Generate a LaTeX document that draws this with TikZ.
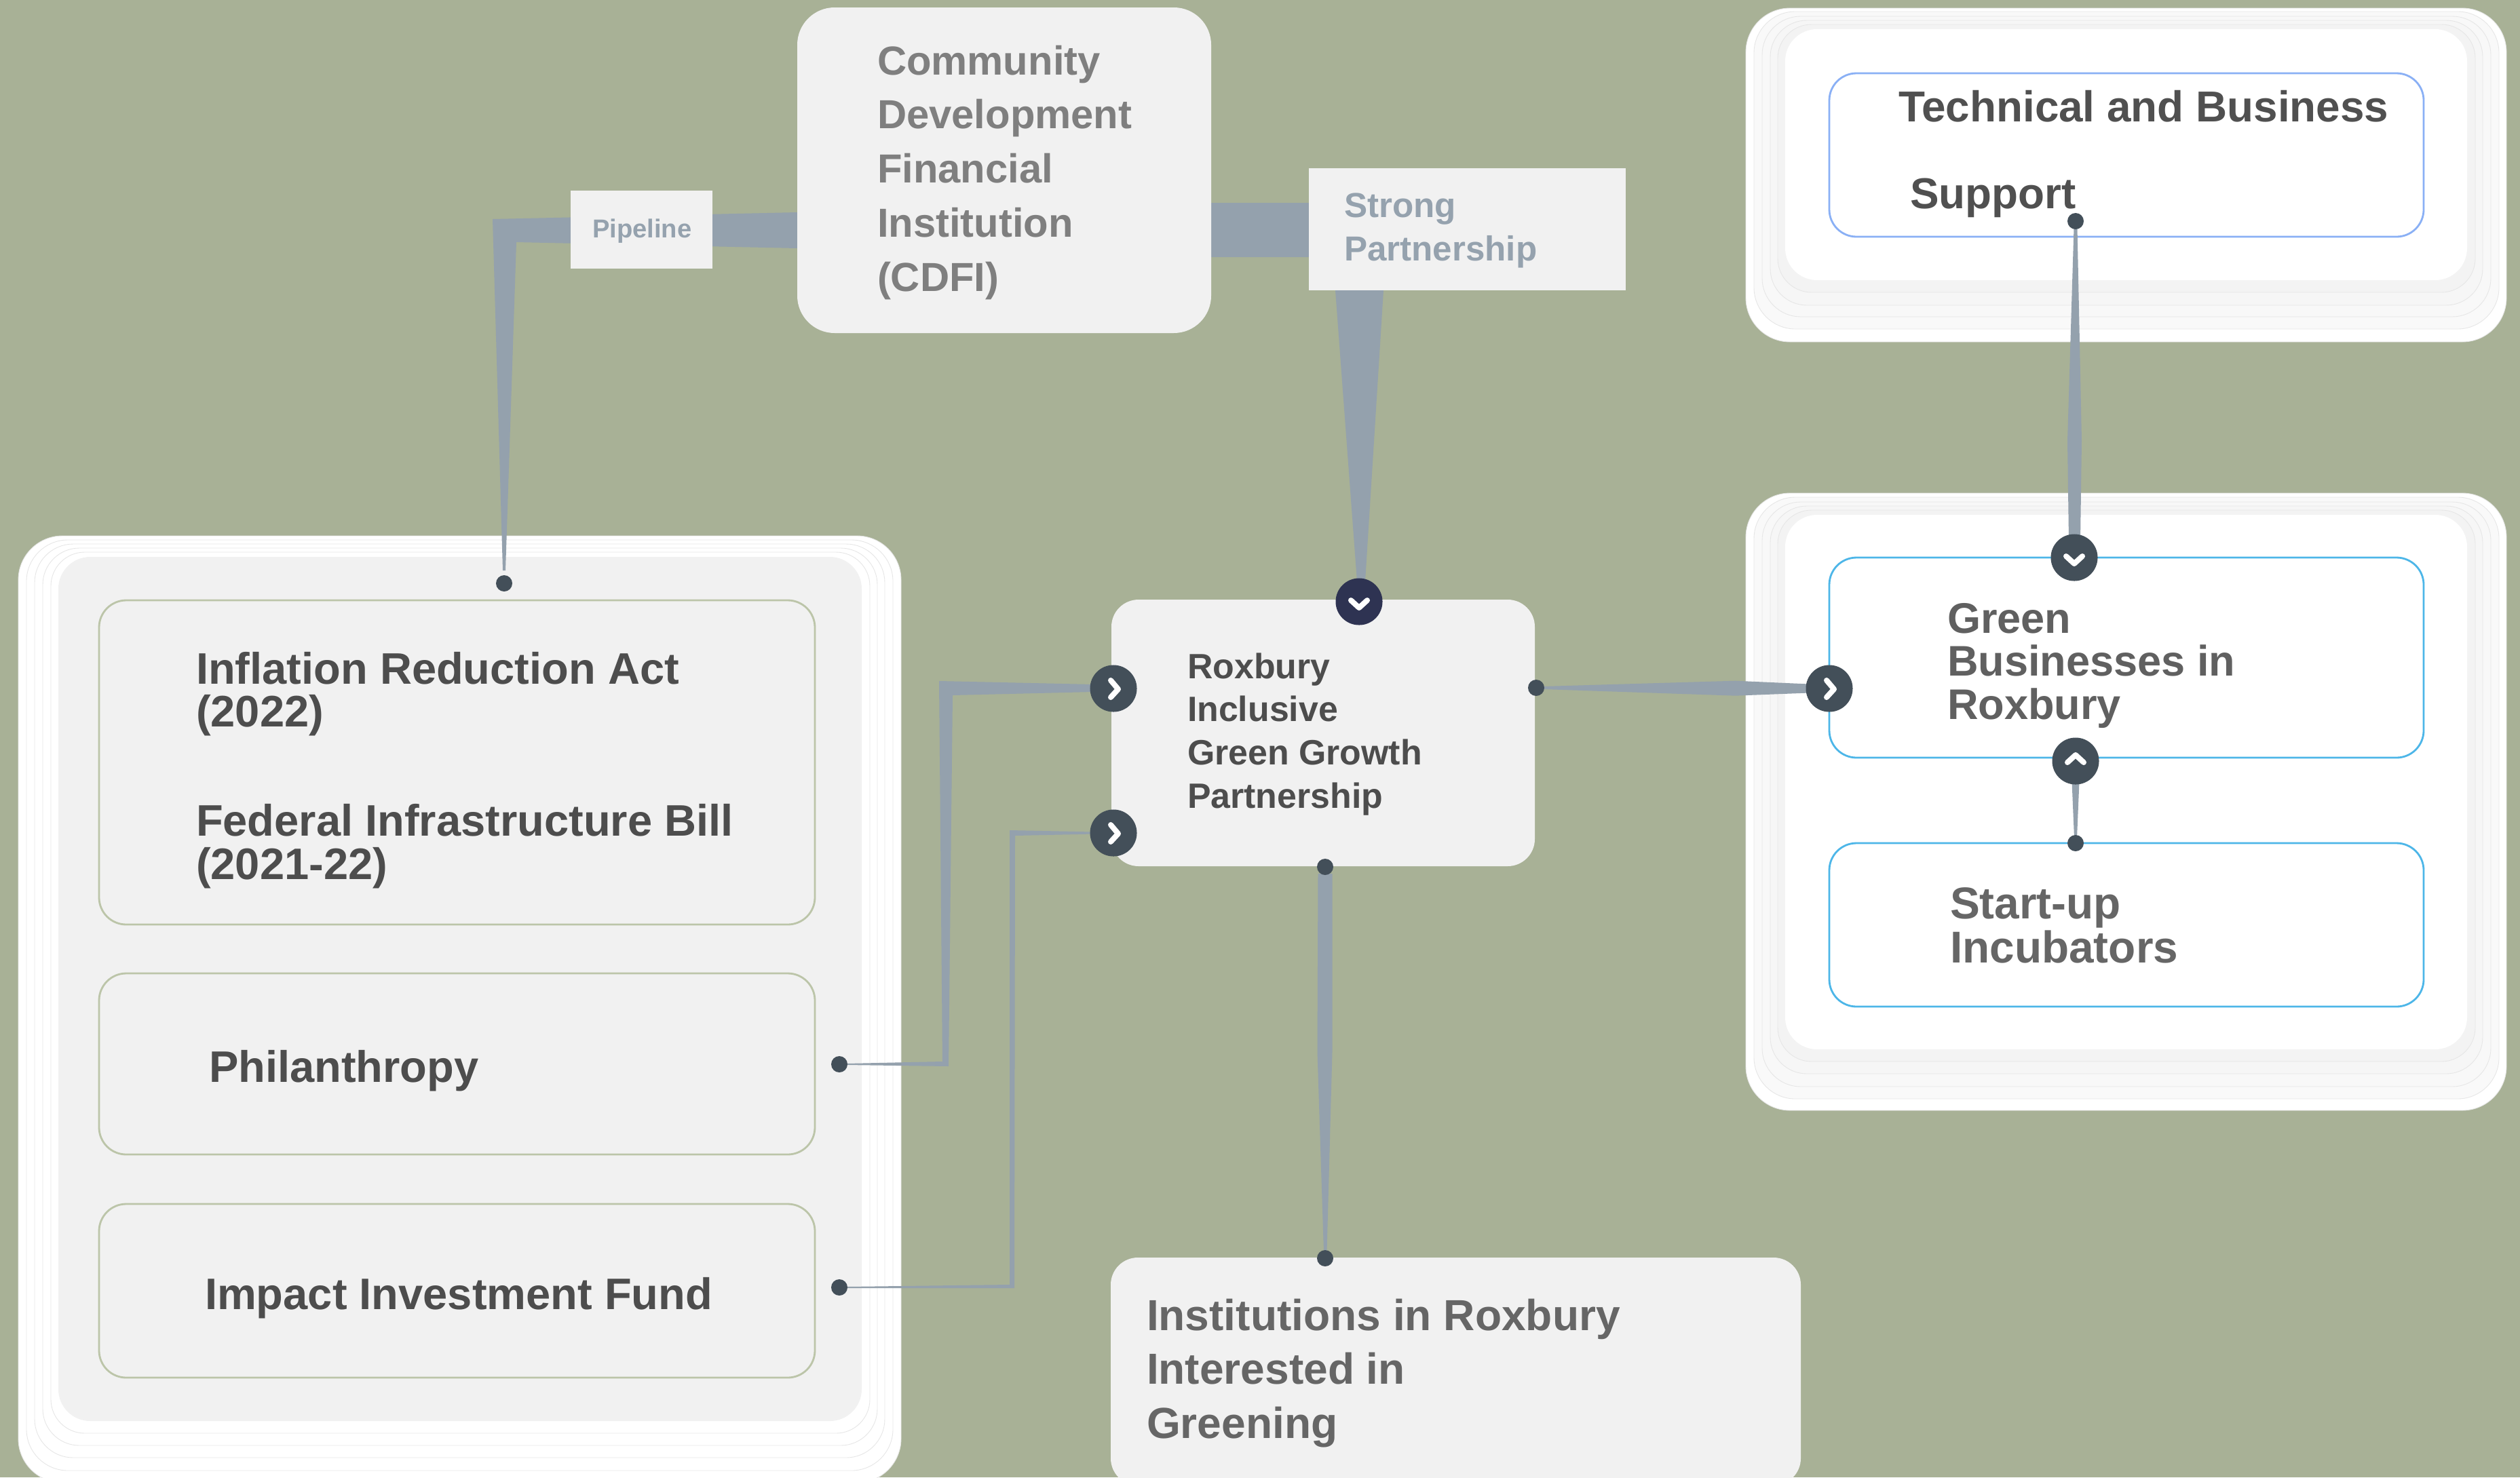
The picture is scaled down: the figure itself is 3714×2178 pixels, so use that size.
\documentclass[tikz,border=0pt]{standalone}
\usepackage{fontspec}
\setmainfont{Liberation Sans}
\usetikzlibrary{calc}
\pgfdeclarelayer{back}
\pgfdeclarelayer{conn}
\pgfsetlayers{back,conn,main}
\definecolor{bgc}{HTML}{A8B196}
\definecolor{connc}{HTML}{94A1AD}
\definecolor{dotc}{HTML}{434F59}
\definecolor{navyc}{HTML}{2E3352}
\definecolor{boxc}{HTML}{F1F1F1}
\definecolor{sagec}{HTML}{BCC5A9}
\definecolor{blueA}{HTML}{8AB0F5}
\definecolor{blueB}{HTML}{4DB6E8}
\definecolor{laya}{HTML}{F9F9F9}
\definecolor{layb}{HTML}{F8F8F8}
\definecolor{layc}{HTML}{F6F6F6}
\definecolor{layd}{HTML}{F3F3F3}
\definecolor{layl}{HTML}{E6E6E6}
\definecolor{txA}{HTML}{4D4D4D}
\definecolor{txB}{HTML}{505050}
\definecolor{txC}{HTML}{606060}
\definecolor{txD}{HTML}{666666}
\definecolor{txE}{HTML}{7F7F7F}
\definecolor{txF}{HTML}{95A2AE}
\tikzset{
  panel/.style={shape=rectangle,inner sep=0pt,outer sep=0pt},
  plain/.style={panel,fill=boxc},
  sage/.style={panel,fill=boxc,draw=sagec,line width=0.8pt},
  bluea/.style={panel,fill=white,draw=blueA,line width=0.8pt},
  blueb/.style={panel,fill=white,draw=blueB,line width=0.8pt},
  lay/.style={panel,fill=#1,draw=layl,line width=0.25pt},
  conn/.style={fill=connc},
  pt/.style={shape=circle,fill=dotc,minimum size=0.24cm,inner sep=0pt,outer sep=0pt},
  hub/.style={shape=circle,fill=dotc,minimum size=0.69cm,inner sep=0pt,outer sep=0pt},
  navyhub/.style={hub,fill=navyc},
  chv/.style={draw=white,line width=0.08cm,line cap=round,line join=round},
  lbl/.style={anchor=base west,inner sep=0pt,outer sep=0pt},
  fa/.style={lbl,text=txA,font=\fontsize{18.5}{22}\selectfont\bfseries},
  fb/.style={lbl,text=txB,font=\fontsize{18.15}{22}\selectfont\bfseries},
  fc/.style={lbl,text=txC,font=\fontsize{17.95}{22}\selectfont\bfseries},
  fi/.style={lbl,text=txD,font=\fontsize{18.7}{22}\selectfont\bfseries},
  fd/.style={lbl,text=txD,font=\fontsize{18.22}{22}\selectfont\bfseries},
  fe/.style={lbl,text=txA,font=\fontsize{14.75}{18}\selectfont\bfseries},
  ff/.style={lbl,text=txE,font=\fontsize{17.0}{20}\selectfont\bfseries},
  fg/.style={lbl,text=txF,font=\fontsize{10.85}{13}\selectfont\bfseries},
  fh/.style={lbl,text=txF,font=\fontsize{14.55}{18}\selectfont\bfseries},
}
% style, name, x1, y1, x2, y2, radius
\newcommand\boxn[7]{\node[#1,minimum width={(#5-#3)*0.01cm},minimum height={(#6-#4)*0.01cm},rounded corners=#7] (#2) at ({(#3+#5)/2},{(#4+#6)/2}) {};}
% baseline distance, lines separated by \cr; the node's base is the first line
\newcommand\txtlines[2]{\vtop{\baselineskip=#1\lineskip=0pt\lineskiplimit=-100pt\halign{##\hfil\cr #2\cr}}}
\newcommand\chev[4]{\draw[chv] ($(#1)+#2$) -- ($(#1)+#3$) -- ($(#1)+#4$);}
\newcommand\chevR[1]{\chev{#1}{(-4,-12)}{(7,1)}{(-4,13)}}
\newcommand\chevD[1]{\chev{#1}{(-12,-2)}{(0,9)}{(12,-2)}}
\newcommand\chevU[1]{\chev{#1}{(-12,2)}{(0,-9)}{(12,2)}}
\begin{document}
\begin{tikzpicture}[x=0.01cm,y=-0.01cm]
\useasboundingbox (0,0) rectangle (3714,2178);
\begin{pgfonlayer}{back}
\clip (0,0) rectangle (3714,2178);
\fill[bgc] (0,0) rectangle (3714,2178);
% left stack
\boxn{lay=white}{la}{27}{790}{1328}{2186}{0.65cm}
\boxn{lay=white}{lb}{39}{796}{1316}{2168}{0.61cm}
\boxn{lay=white}{lc}{51}{802}{1304}{2149}{0.57cm}
\boxn{lay=white}{ld}{63}{808}{1293}{2131}{0.54cm}
\boxn{lay=white}{le}{75}{814}{1282}{2113}{0.50cm}
\boxn{plain}{lf}{86}{821}{1270}{2095}{0.47cm}
\boxn{sage}{ira}{146}{885}{1201}{1363}{0.40cm}
\boxn{sage}{phil}{146}{1435}{1201}{1702}{0.40cm}
\boxn{sage}{fund}{146}{1775}{1201}{2031}{0.40cm}
% top right stack
\boxn{lay=white}{ta}{2573}{12}{3694}{504}{0.65cm}
\boxn{lay=laya}{tb}{2585}{17}{3683}{485}{0.61cm}
\boxn{lay=layb}{tc}{2597}{24}{3671}{467}{0.57cm}
\boxn{lay=layc}{td}{2609}{30}{3659}{450}{0.54cm}
\boxn{lay=layd}{te}{2620}{36}{3648}{431}{0.50cm}
\boxn{panel,fill=white}{tf}{2631}{43}{3636}{413}{0.47cm}
\boxn{bluea}{tech}{2696}{108}{3572}{349}{0.40cm}
% lower right stack
\boxn{lay=white}{ga}{2573}{727}{3694}{1637}{0.65cm}
\boxn{lay=laya}{gb}{2585}{733}{3683}{1620}{0.61cm}
\boxn{lay=layb}{gc}{2597}{740}{3671}{1602}{0.57cm}
\boxn{lay=layc}{gd}{2609}{746}{3659}{1583}{0.54cm}
\boxn{lay=layd}{ge}{2620}{752}{3648}{1565}{0.50cm}
\boxn{panel,fill=white}{gf}{2631}{759}{3636}{1547}{0.47cm}
\boxn{blueb}{green}{2696}{822}{3572}{1117}{0.40cm}
\boxn{blueb}{start}{2696}{1243}{3572}{1484}{0.40cm}
\boxn{plain}{inst}{1637}{1854}{2654}{2190}{0.40cm}
\end{pgfonlayer}

\boxn{plain}{cdfi}{1175}{11}{1785}{491}{0.55cm}
\boxn{plain}{pipe}{841}{281}{1050}{396}{0pt}
\boxn{plain}{strong}{1929}{248}{2396}{428}{0pt}
\boxn{plain}{mid}{1638}{884}{2262}{1277}{0.40cm}

\node[pt] (dotA) at (743,860) {};
\node[pt] (dotP) at (1237,1569) {};
\node[pt] (dotF) at (1237,1898) {};
\node[pt] (dotR) at (2264,1014) {};
\node[pt] (dotB) at (1953,1278) {};
\node[pt] (dotI) at (1953,1855) {};
\node[pt] (dotT) at (3059,326) {};
\node[pt] (dotS) at (3059,1243) {};
\node[navyhub] (hubM) at (2003,887) {};
\node[hub] (hubP) at (1641,1015) {};
\node[hub] (hubF) at (1641,1228) {};
\node[hub] (hubG) at (2696,1015) {};
\node[hub] (hubT) at (3057,822) {};
\node[hub] (hubS) at (3059,1122) {};
\chevD{hubM}
\chevR{hubP}
\chevR{hubF}
\chevR{hubG}
\chevD{hubT}
\chevU{hubS}

\node[fa] (t1) at (289,1008) {\txtlines{0.63cm}{Inflation Reduction Act\cr(2022)}};
\node[fa] (t2) at (289,1232) {\txtlines{0.645cm}{Federal Infrastructure Bill\cr(2021-22)}};
\node[fa] (t3) at (308,1595) {Philanthropy};
\node[fa] (t4) at (302,1930) {Impact Investment Fund};
\node[fb] (t5) at (2798,179) {Technical and Business};
\node[fb] (t6) at (2815,307) {Support};
\node[fc] (t7) at (2870,933) {\txtlines{0.635cm}{Green\cr Businesses in\cr Roxbury}};
\node[fi] (t8) at (2874,1354) {\txtlines{0.65cm}{Start-up\cr Incubators}};
\node[fe] (t9) at (1750,1000) {\txtlines{0.637cm}{Roxbury\cr Inclusive\cr Green Growth\cr Partnership}};
\node[ff] (t10) at (1293,110) {\txtlines{0.798cm}{Community\cr Development\cr Financial\cr Institution\cr (CDFI)}};
\node[fg] (t11) at (873,350) {Pipeline};
\node[fh] (t12) at (1981,320) {\txtlines{0.64cm}{Strong\cr Partnership}};
\node[fd] (t13) at (1690,1961) {\txtlines{0.795cm}{Institutions in Roxbury\cr Interested in\cr Greening}};

\begin{pgfonlayer}{conn}
\coordinate (bendA) at (726,323);
\coordinate (bendP) at (1384,1004);
\coordinate (cornerP) at (1398,1572);
\coordinate (bendF) at (1488,1224);
\coordinate (cornerF) at (1495,1899);
% CDFI to the first panel, behind Pipeline
\fill[conn] ($(cdfi.west)+(0,62)$) -- (bendA) -- ($(dotA)+(-2,-19)$) -- ($(dotA)+(2,-19)$)
  -- ($(bendA)+(35,34)$) -- ($(cdfi.west)+(0,115)$) -- cycle;
% CDFI to the partnership, behind Strong Partnership
\fill[conn] ($(cdfi.east)+(0,48)$) -- ($(strong.center)+(0,-39)$) -- ($(strong.south)+(-123.5,0)$)
  -- ($(hubM)+(9,-30)$) -- ($(hubM)+(-3,-30)$) -- ($(strong.south)+(-194.5,0)$)
  -- ($(strong.west)+(0,41)$) -- ($(cdfi.east)+(0,128)$) -- cycle;
% Philanthropy
\fill[conn] ($(dotP)+(10,-1)$) -- ($(cornerP)+(-9,-7)$) -- (bendP) -- ($(hubP)+(-30,-6)$)
  -- ($(hubP)+(-30,5)$) -- ($(bendP)+(20,21)$) -- (cornerP) -- ($(dotP)+(10,1)$) -- cycle;
% Impact Investment Fund
\fill[conn] ($(dotF)+(10,-1)$) -- ($(cornerF)+(-7,-5)$) -- (bendF) -- ($(hubF)+(-30,-1.5)$)
  -- ($(hubF)+(-30,1.5)$) -- ($(bendF)+(8,8)$) -- (cornerF) -- ($(dotF)+(10,1)$) -- cycle;
% partnership to Green Businesses
\fill[conn] ($(dotR)+(10,-2)$) -- ($(dotR)!.68!(hubG)+(0,-11)$) -- ($(hubG)+(-30,-6.5)$)
  -- ($(hubG)+(-30,6.5)$) -- ($(dotR)!.68!(hubG)+(0,11)$) -- ($(dotR)+(10,2)$) -- cycle;
% Technical support to Green Businesses
\fill[conn] ($(dotT)+(-2.5,10)$) -- ($(hubT)+(-10,-172)$) -- ($(hubT)+(-8,-25)$)
  -- ($(hubT)+(9,-25)$) -- ($(hubT)+(11,-172)$) -- ($(dotT)+(2.5,10)$) -- cycle;
% Start-up to Green Businesses
\fill[conn] ($(hubS)+(-5.5,30)$) -- ($(dotS)+(-2,-8)$) -- ($(dotS)+(2,-8)$) -- ($(hubS)+(5.5,30)$) -- cycle;
% partnership to Institutions
\fill[conn] ($(dotB)+(-10.5,10)$) -- ($(dotB)+(-11.5,273)$) -- ($(dotI)+(-2,-10)$)
  -- ($(dotI)+(2.5,-10)$) -- ($(dotB)+(10.5,273)$) -- ($(dotB)+(10.5,10)$) -- cycle;
\end{pgfonlayer}
\end{tikzpicture}
\end{document}
